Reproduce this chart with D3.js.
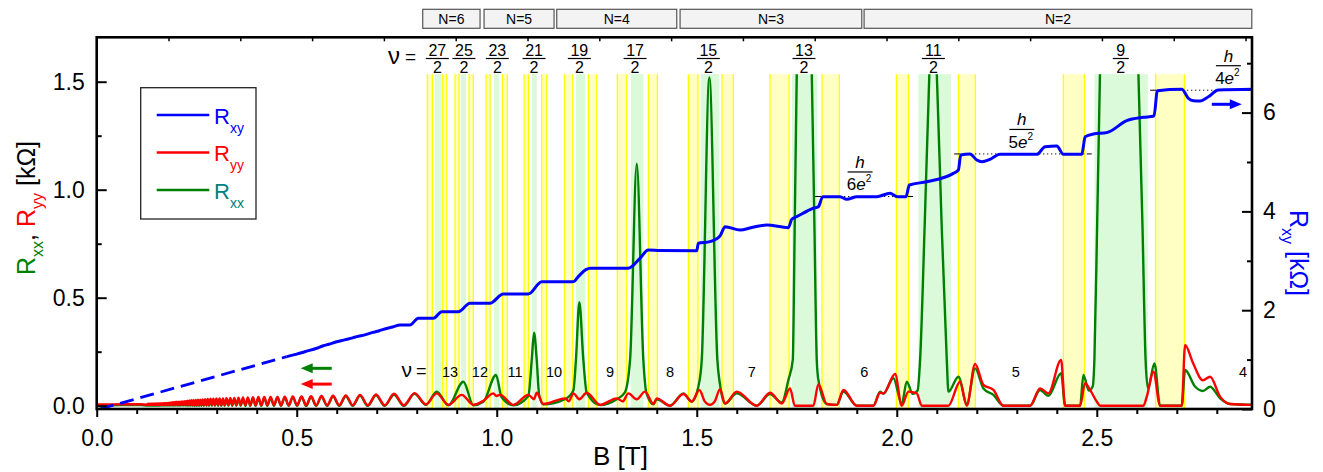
<!DOCTYPE html>
<html><head><meta charset="utf-8">
<script src="https://cdn.jsdelivr.net/npm/d3@7/dist/d3.min.js"></script>
<style>
body{margin:0;background:#fff;}
svg text{font-family:"Liberation Sans",Arial,Helvetica,sans-serif;}
</style></head>
<body>
<svg id="chart" width="1323" height="472"></svg>
<script>
// ---------------- DATA ----------------
const xMajorTicks=[0,0.5,1.0,1.5,2.0,2.5];
const xMinorTicks=[0.1,0.2,0.3,0.4,0.6,0.7,0.8,0.9,1.1,1.2,1.3,1.4,1.6,1.7,1.8,1.9,2.1,2.2,2.3,2.4,2.6,2.7,2.8];
const yLeftMajor=[0,0.5,1.0,1.5];
const yLeftMinor=[0.25,0.75,1.25];
const yRightMajor=[0,2,4,6];
const yRightMinor=[1,3,5,7];

// Rxy (kOhm, right axis)
const rxyDashB=[0.008,0.475];
const rxyDashVal=[0.0,1.06];
const rxyB=[0.475,0.50,0.52,0.55,0.5665,0.58,0.60,0.62,0.64,0.65,0.67,0.69,0.705,0.72,0.74,0.758,0.783,0.804,0.8415,0.8625,0.904,0.933,0.983,1.0165,1.079,1.1125,1.1915,1.205,1.223,1.233,1.329,1.358,1.379,1.408,1.5,1.504,1.533,1.558,1.571,1.608,1.64,1.675,1.729,1.7375,1.75,1.7915,1.804,1.815,1.858,1.875,1.9,1.95,1.983,2.0015,2.023,2.0315,2.075,2.1415,2.154,2.16,2.183,2.2,2.2125,2.233,2.258,2.35,2.371,2.4,2.4165,2.4625,2.471,2.4915,2.525,2.575,2.6165,2.643,2.6515,2.7125,2.729,2.7415,2.758,2.779,2.804,2.8875];
const rxyVal=[1.06,1.11,1.16,1.23,1.28,1.31,1.36,1.40,1.44,1.464,1.50,1.55,1.58,1.62,1.66,1.70,1.70,1.836,1.836,1.97,1.97,2.14,2.14,2.328,2.328,2.577,2.577,2.69,2.82,2.848,2.848,3.05,3.219,3.21,3.204,3.354,3.387,3.502,3.69,3.623,3.68,3.725,3.67,3.84,3.893,4.063,4.095,4.298,4.298,4.245,4.298,4.298,4.366,4.298,4.298,4.534,4.6,4.77,4.838,5.142,5.162,5.04,5.006,5.054,5.156,5.156,5.31,5.324,5.156,5.156,5.512,5.567,5.594,5.836,5.904,5.931,6.443,6.472,6.289,6.24,6.235,6.322,6.457,6.472];

// low-field baseline and Shubnikov-de Haas oscillations (Rxx, Ryy in kOhm)
const baseB=[0,0.04,0.08,0.11];
const baseRyy=[0.006,0.006,0.007,0.007];
const baseRxx=[0.002,0.002,0.003,0.003];
const oscTroughB=[0.1266,0.1280,0.1294,0.1309,0.1324,0.1340,0.1355,0.1371,0.1388,0.1405,0.1422,0.1440,0.1458,0.1477,0.1496,0.1516,0.1536,0.1557,0.1578,0.1600,
  0.1623,0.1646,0.1670,0.1694,0.1719,0.1745,0.1772,0.1800,0.1829,0.1858,0.1889,0.1920,0.1953,0.1986,0.2021,0.2057,0.2095,0.2133,0.2174,0.2215,0.2259,0.2304,0.2351,0.2400,0.2451,0.2504,0.2560,0.2618,0.2679,0.2743,0.2810,0.2880,0.2954,0.3032,0.3114,0.3200,0.3291,0.3388,0.3491,0.3600,0.3716,0.3840,0.3972,0.4114,0.4267,0.4431,0.4608,0.4800,0.5009,0.5236,0.5486,0.5760,0.6063,0.6400,0.6776,0.7200,0.7680];
const oscPeakB=[0.1273,0.1287,0.1302,0.1317,0.1332,0.1347,0.1363,0.1380,0.1396,0.1414,0.1431,0.1449,0.1468,0.1487,0.1506,0.1526,0.1546,0.1567,0.1589,0.1611,
  0.1634,0.1658,0.1682,0.1707,0.1732,0.1759,0.1786,0.1814,0.1843,0.1873,0.1904,0.1936,0.1969,0.2003,0.2039,0.2076,0.2114,0.2153,0.2194,0.2237,0.2281,0.2327,0.2375,0.2425,0.2477,0.2532,0.2589,0.2648,0.2711,0.2776,0.2844,0.2916,0.2992,0.3072,0.3156,0.3245,0.3339,0.3439,0.3545,0.3657,0.3777,0.3905,0.4042,0.4189,0.4347,0.4518,0.4702,0.4902,0.5120,0.5358,0.5620,0.5908,0.6227,0.6583,0.6982,0.7432,0.7945];
const oscPeakRyy=[0.008,0.008,0.008,0.008,0.008,0.008,0.009,0.009,0.009,0.009,0.009,0.009,0.009,0.009,0.010,0.010,0.010,0.010,0.010,0.010,
  0.010,0.011,0.011,0.012,0.012,0.013,0.013,0.014,0.014,0.015,0.016,0.016,0.017,0.018,0.018,0.019,0.020,0.020,0.021,0.022,0.023,0.024,0.025,0.026,0.027,0.028,0.028,0.029,0.030,0.031,0.032,0.032,0.033,0.034,0.034,0.035,0.036,0.036,0.037,0.038,0.038,0.039,0.040,0.040,0.041,0.041,0.042,0.043,0.043,0.044,0.045,0.046,0.048,0.050,0.052,0.055,0.058];
const oscPeakRxx=[0.005,0.005,0.005,0.005,0.005,0.005,0.006,0.006,0.006,0.006,0.006,0.006,0.006,0.006,0.007,0.007,0.007,0.007,0.007,0.007,
  0.007,0.007,0.008,0.008,0.009,0.009,0.010,0.010,0.011,0.011,0.012,0.013,0.013,0.014,0.015,0.015,0.016,0.017,0.017,0.018,0.019,0.020,0.021,0.022,0.023,0.024,0.024,0.025,0.026,0.027,0.028,0.028,0.029,0.030,0.030,0.031,0.032,0.032,0.033,0.034,0.034,0.035,0.036,0.036,0.037,0.038,0.038,0.039,0.040,0.040,0.041,0.042,0.044,0.046,0.048,0.051,0.055];
const oscTroughRyy=[0.004,0.004,0.004,0.004,0.004,0.004,0.004,0.004,0.004,0.004,0.004,0.004,0.004,0.004,0.004,0.004,0.004,0.004,0.004,0.004,
  0.004,0.004,0.004,0.004,0.004,0.004,0.004,0.004,0.004,0.004,0.004,0.004,0.004,0.004,0.004,0.004,0.004,0.004,0.004,0.004,0.003,0.003,0.003,0.003,0.003,0.003,0.003,0.003,0.003,0.003,0.003,0.003,0.003,0.003,0.003,0.003,0.003,0.003,0.003,0.003,0.002,0.002,0.002,0.002,0.002,0.002,0.002,0.002,0.002,0.002,0.002,0.002,0.002,0.002,0.002,0.002,0.002];
const oscTroughRxx=[0.001,0.001,0.001,0.001,0.001,0.001,0.001,0.001,0.001,0.001,0.001,0.001,0.001,0.001,0.001,0.001,0.001,0.001,0.001,0.001,
  0.001,0.001,0.001,0.001,0.001,0.001,0.001,0.001,0.001,0.001,0.001,0.001,0.001,0.001,0.001,0.001,0.001,0.001,0.001,0.001,0.0,0.0,0.0,0.0,0.0,0.0,0.0,0.0,0.0,0.0,0.0,0.0,0.0,0.0,0.0,0.0,0.0,0.0,0.0,0.0,-0.001,-0.001,-0.001,-0.001,-0.001,-0.001,-0.001,-0.001,-0.001,-0.001,-0.001,-0.001,-0.001,-0.001,-0.001,-0.001,-0.001];

// high-field Rxx
const rxxHiB=[0.8229,0.8499,0.8791,0.9166,0.9416,0.9666,0.9982,1.012,1.0416,1.0791,1.0875,1.0933,1.1,1.106,1.1166,1.1707,1.1916,1.198,1.2065,1.2165,1.2249,1.2582,1.3,1.32,1.3333,1.35,1.3665,1.374,1.3916,1.4,1.4333,1.4666,1.4874,1.5041,1.5125,1.5315,1.5515,1.5583,1.5708,1.6,1.65,1.6833,1.7124,1.7291,1.74,1.745,1.75,1.758,1.769,1.78,1.7875,1.794,1.8,1.8041,1.825,1.85,1.8666,1.9,1.9416,1.9583,1.9666,1.9916,2.0124,2.025,2.04,2.052,2.0583,2.07,2.0815,2.0905,2.1,2.112,2.125,2.1291,2.1541,2.175,2.1958,2.2166,2.2416,2.2666,2.3333,2.3583,2.3791,2.4108,2.4208,2.4583,2.4666,2.48,2.49,2.494,2.501,2.508,2.52,2.556,2.59,2.604,2.614,2.622,2.628,2.6441,2.6583,2.7124,2.7208,2.745,2.765,2.7833,2.8083,2.8333,2.888];
const rxxHiVal=[0.004,0.065,0.002,0.111,0.002,0.018,0.142,0.04,0.002,0.045,0.212,0.338,0.212,0.05,0.006,0.03,0.07,0.212,0.479,0.212,0.06,0.003,0.03,0.06,0.212,1.12,0.212,0.06,0.006,0.03,0.0,0.057,0.019,0.089,0.212,1.52,0.212,0.096,0.01,0.057,0.0,0.054,0.015,0.119,0.212,0.85,1.54,2.1,2.4,2.1,1.54,0.85,0.212,0.119,0.008,0.004,0.065,0.0,0.0,0.065,0.055,0.127,0.008,0.111,0.055,0.07,0.212,0.85,1.54,1.95,1.54,0.85,0.212,0.065,0.134,0.008,0.173,0.08,0.05,0.0,0.0,0.073,0.046,0.15,0.0,0.0,0.142,0.07,0.09,0.212,0.85,1.54,2.4,2.9,2.4,1.54,0.85,0.212,0.08,0.196,0.0,0.0,0.165,0.09,0.068,0.088,0.034,0.008,0.004];

// high-field Ryy
const ryyHiB=[0.8229,0.8499,0.8791,0.9124,0.9416,0.9666,0.9916,0.999,1.0083,1.0416,1.0791,1.0933,1.0999,1.1166,1.1707,1.18,1.1916,1.2065,1.2249,1.2582,1.3,1.315,1.329,1.35,1.3707,1.3916,1.4,1.4333,1.4666,1.4874,1.5066,1.52,1.5332,1.545,1.5583,1.5708,1.6,1.65,1.6833,1.7124,1.7333,1.745,1.7916,1.8041,1.825,1.85,1.8666,1.9,1.9416,1.9583,1.9666,1.9958,2.0124,2.0291,2.05,2.0624,2.1291,2.1583,2.175,2.1958,2.2166,2.2416,2.2666,2.3333,2.3583,2.3791,2.4108,2.4208,2.4583,2.4708,2.4833,2.5,2.5083,2.6166,2.625,2.6416,2.6583,2.7124,2.7208,2.74,2.765,2.7833,2.8083,2.8333,2.888];
const ryyHiVal=[0.006,0.057,0.004,0.05,0.004,0.023,0.057,0.045,0.05,0.004,0.05,0.03,0.06,0.008,0.034,0.02,0.057,0.03,0.06,0.004,0.034,0.02,0.057,0.03,0.065,0.008,0.034,0.0,0.054,0.019,0.073,0.02,0.004,0.02,0.076,0.01,0.065,0.0,0.06,0.01,0.08,0.0,0.0,0.1,0.008,0.004,0.073,0.0,0.0,0.06,0.057,0.147,0.0,0.065,0.057,0.0,0.0,0.111,0.0,0.193,0.096,0.073,0.0,0.0,0.08,0.057,0.212,0.0,0.0,0.104,0.073,0.019,0.0,0.0,0.042,0.157,0.0,0.0,0.281,0.2,0.118,0.134,0.042,0.008,0.004];

// shaded field ranges (T)
const yellowBands=[[0.8265,0.839],[0.865,0.875],[0.8958,0.9058],[0.9308,0.9415],[0.9733,0.9833],[1.014,1.0265],[1.0683,1.079],[1.1125,1.125],[1.169,1.19],[1.229,1.25],[1.3015,1.325],[1.379,1.4015],[1.479,1.503],[1.563,1.5915],[1.683,1.7308],[1.813,1.8565],[1.999,2.029],[2.154,2.1965],[2.4165,2.469],[2.647,2.719]];
const greenBands=[[0.8458,0.8625],[0.9108,0.9233],[0.9933,1.0058],[1.0875,1.1],[1.198,1.221],[1.335,1.3665],[1.51,1.5565],[1.738,1.8015],[2.054,2.1358],[2.494,2.6275]];

// Landau level groups
const levelNames=["N=6","N=5","N=4","N=3","N=2"];
const levelRanges=[[0.815,0.9583],[0.9683,1.1433],[1.15,1.45],[1.4583,1.9125],[1.9183,2.8875]];

// half-integer filling labels
const fracNum=["27","25","23","21","19","17","15","13","11","9"];
const fracB=[0.8515,0.918,1.0015,1.0933,1.2065,1.3458,1.529,1.768,2.0915,2.56];

// integer filling labels
const nuInt=["13","12","11","10","9","8","7","6","5","4"];
const nuIntB=[0.8833,0.958,1.0458,1.1433,1.2833,1.4333,1.6375,1.919,2.2975,2.8658];

// quantized plateaus h/(n e^2)
const plateauN=[6,5,4];
const plateauR=[4.302,5.163,6.453];
const plateauLabelB=[1.9083,2.3125,2.829];
const plateauLineB=[[1.7958,2.0408],[2.1433,2.4875],[2.6333,2.8833]];

// ---------------- CHART ----------------
const M={l:96.7,r:1252,t:37.3,b:409};
const x=d3.scaleLinear().domain([0,2.888]).range([M.l,M.r]);
const yL=d3.scaleLinear().domain([-0.0153,1.7056]).range([M.b,M.t]);
const yR=d3.scaleLinear().domain([0,7.524]).range([M.b,M.t]);
const xTop=d3.scaleLinear().domain([0,16.09]).range([M.l,M.r]);
const svg=d3.select('#chart');
const bandTop=yL(1.535);

const BLUE='#0000ff',RED='#ff0000',GREEN='#008000',TEAL='#008080';

svg.append('defs').append('clipPath').attr('id','clip')
  .append('rect').attr('x',M.l).attr('y',bandTop).attr('width',M.r-M.l).attr('height',M.b-bandTop);

// bands
const gBands=svg.append('g');
gBands.selectAll('rect.g').data(greenBands).join('rect').attr('class','g')
  .attr('x',d=>x(d[0])).attr('width',d=>x(d[1])-x(d[0]))
  .attr('y',bandTop).attr('height',M.b-bandTop).attr('fill','#dafada');
gBands.selectAll('rect.y').data(yellowBands).join('rect').attr('class','y')
  .attr('x',d=>x(d[0])).attr('width',d=>x(d[1])-x(d[0]))
  .attr('y',bandTop).attr('height',M.b-bandTop).attr('fill','#ffffc4');
yellowBands.forEach(d=>{
  d.forEach(b=>{
    gBands.append('line').attr('x1',x(b)).attr('x2',x(b)).attr('y1',bandTop).attr('y2',M.b)
      .attr('stroke','#ffff00').attr('stroke-width',1.3);
  });
});

// plateau reference lines
plateauR.forEach((r,i)=>{
  const yy=yR(r), x1=x(plateauLineB[i][0]), x2=x(plateauLineB[i][1]);
  svg.append('line').attr('x1',x1+5).attr('x2',x2-5).attr('y1',yy).attr('y2',yy)
    .attr('stroke','#000').attr('stroke-width',1).attr('stroke-dasharray','1.2,2.8');
  svg.append('line').attr('x1',x1).attr('x2',x1+5).attr('y1',yy).attr('y2',yy).attr('stroke','#000').attr('stroke-width',1);
  svg.append('line').attr('x1',x2-5).attr('x2',x2).attr('y1',yy).attr('y2',yy).attr('stroke','#000').attr('stroke-width',1);
});

// build series
function interleave(tb,tv,pb,pv){const o=[];tb.forEach((b,i)=>{o.push([b,tv[i]]);o.push([pb[i],pv[i]]);});return o;}
const rxxPts=baseB.map((b,i)=>[b,baseRxx[i]])
  .concat(interleave(oscTroughB,oscTroughRxx,oscPeakB,oscPeakRxx))
  .concat(rxxHiB.map((b,i)=>[b,rxxHiVal[i]]));
const ryyPts=baseB.map((b,i)=>[b,baseRyy[i]])
  .concat(interleave(oscTroughB,oscTroughRyy,oscPeakB,oscPeakRyy))
  .concat(ryyHiB.map((b,i)=>[b,ryyHiVal[i]]));
const rxyPts=rxyB.map((b,i)=>[b,rxyVal[i]]);
const rxyDash=rxyDashB.map((b,i)=>[b,rxyDashVal[i]]);

const lineL=d3.line().x(d=>x(d[0])).y(d=>yL(d[1])).curve(d3.curveMonotoneX);
const lineR=d3.line().x(d=>x(d[0])).y(d=>yR(d[1])).curve(d3.curveMonotoneX);

const gCurves=svg.append('g').attr('clip-path','url(#clip)');
gCurves.append('path').datum(rxxPts).attr('d',lineL).attr('fill','none').attr('stroke',GREEN).attr('stroke-width',2.4).attr('stroke-linejoin','round');
gCurves.append('path').datum(ryyPts).attr('d',lineL).attr('fill','none').attr('stroke',RED).attr('stroke-width',2.4).attr('stroke-linejoin','round');
gCurves.append('path').datum(rxyDash).attr('d',d3.line().x(d=>x(d[0])).y(d=>yR(d[1]))).attr('fill','none').attr('stroke',BLUE).attr('stroke-width',2.8).attr('stroke-dasharray','14,7');
gCurves.append('path').datum(rxyPts).attr('d',lineR).attr('fill','none').attr('stroke',BLUE).attr('stroke-width',3).attr('stroke-linejoin','round');

// axes
function styleAxis(g,fs){
  g.select('.domain').remove();
  g.selectAll('.tick line').attr('stroke','#000').attr('stroke-width',2);
  g.selectAll('.tick text').attr('fill','#000').attr('font-size',fs).attr('font-family','"Liberation Sans",Arial,sans-serif');
}
styleAxis(svg.append('g').attr('transform',`translate(0,${M.b})`)
  .call(d3.axisBottom(x).tickValues(xMajorTicks).tickFormat(d3.format('.1f')).tickSizeInner(8).tickSizeOuter(0).tickPadding(13)),23);
styleAxis(svg.append('g').attr('transform',`translate(0,${M.b})`)
  .call(d3.axisBottom(x).tickValues(xMinorTicks).tickFormat('').tickSizeInner(5).tickSizeOuter(0)),0);
styleAxis(svg.append('g').attr('transform',`translate(${M.l},0)`)
  .call(d3.axisLeft(yL).tickValues(yLeftMajor).tickFormat(d3.format('.1f')).tickSizeInner(-10).tickSizeOuter(0).tickPadding(12)),23);
styleAxis(svg.append('g').attr('transform',`translate(${M.l},0)`)
  .call(d3.axisLeft(yL).tickValues(yLeftMinor).tickFormat('').tickSizeInner(-5).tickSizeOuter(0)),0);
styleAxis(svg.append('g').attr('transform',`translate(${M.r},0)`)
  .call(d3.axisRight(yR).tickValues(yRightMajor).tickFormat(d3.format('d')).tickSizeInner(-10).tickSizeOuter(0).tickPadding(11)),23);
styleAxis(svg.append('g').attr('transform',`translate(${M.r},0)`)
  .call(d3.axisRight(yR).tickValues(yRightMinor).tickFormat('').tickSizeInner(-5).tickSizeOuter(0)),0);
const gTop=svg.append('g').attr('transform',`translate(0,${M.t})`)
  .call(d3.axisTop(xTop).tickValues(d3.range(1,17)).tickFormat('').tickSizeInner(-4).tickSizeOuter(0));
gTop.select('.domain').remove();
gTop.selectAll('.tick line').attr('stroke','#000').attr('stroke-width',1.5);

// frame
svg.append('rect').attr('x',M.l).attr('y',M.t).attr('width',M.r-M.l).attr('height',M.b-M.t)
  .attr('fill','none').attr('stroke','#000').attr('stroke-width',2.6);

// axis titles
svg.append('text').attr('x',593).attr('y',465).attr('font-size',26).attr('fill','#000').text('B [T]');
const lt=svg.append('text').attr('transform','translate(35,208) rotate(-90)').attr('text-anchor','middle').attr('font-size',25);
lt.append('tspan').attr('fill',GREEN).text('R');
lt.append('tspan').attr('fill',GREEN).attr('font-size',16).attr('dy',8).text('xx');
lt.append('tspan').attr('fill','#000').attr('dy',-8).text(', ');
lt.append('tspan').attr('fill',RED).text('R');
lt.append('tspan').attr('fill',RED).attr('font-size',16).attr('dy',8).text('yy');
lt.append('tspan').attr('fill','#000').attr('dy',-8).text(' [kΩ]');
const rt=svg.append('text').attr('transform','translate(1290,253) rotate(90)').attr('text-anchor','middle').attr('font-size',25).attr('fill',BLUE);
rt.append('tspan').text('R');
rt.append('tspan').attr('font-size',16).attr('dy',8).text('xy');
rt.append('tspan').attr('dy',-8).text(' [kΩ]');

// legend
const leg=svg.append('g');
leg.append('rect').attr('x',140.7).attr('y',87.7).attr('width',115.3).attr('height',131.3).attr('fill','#fff').attr('stroke','#222').attr('stroke-width',1.3);
const legItems=[{s:'xy',c:BLUE,t:BLUE},{s:'yy',c:RED,t:RED},{s:'xx',c:GREEN,t:TEAL}];
legItems.forEach((d,i)=>{
  const yy=115+i*37.5;
  leg.append('line').attr('x1',156.7).attr('x2',209.3).attr('y1',yy).attr('y2',yy).attr('stroke',d.c).attr('stroke-width',2.5);
  const t=leg.append('text').attr('x',214).attr('y',yy+8.5).attr('font-size',22).attr('fill',d.t);
  t.append('tspan').text('R');
  t.append('tspan').attr('font-size',14).attr('dy',9).text(d.s);
});

// level group boxes
levelNames.forEach((n,i)=>{
  const x1=x(levelRanges[i][0]),x2=x(levelRanges[i][1]);
  svg.append('rect').attr('x',x1).attr('y',9.3).attr('width',x2-x1).attr('height',19)
    .attr('fill','#f3f3f3').attr('stroke','#555').attr('stroke-width',1.2);
  svg.append('text').attr('x',(x1+x2)/2).attr('y',24).attr('text-anchor','middle').attr('font-size',14).attr('fill','#000').text(n);
});

// top nu = fractions
svg.append('text').attr('x',388).attr('y',64).attr('font-family','"Liberation Serif",serif').attr('font-size',24).attr('fill','#000').text('ν');
svg.append('text').attr('x',405).attr('y',63).attr('font-size',19).attr('fill','#000').text('=');
fracNum.forEach((n,i)=>{
  const cx=x(fracB[i]); const hw=n.length>1?11.5:8;
  svg.append('text').attr('x',cx).attr('y',55.5).attr('text-anchor','middle').attr('font-size',16).attr('fill','#000').text(n);
  svg.append('line').attr('x1',cx-hw).attr('x2',cx+hw).attr('y1',58.5).attr('y2',58.5).attr('stroke','#000').attr('stroke-width',1.2);
  svg.append('text').attr('x',cx).attr('y',72.5).attr('text-anchor','middle').attr('font-size',16).attr('fill','#000').text('2');
});

// bottom integer nu labels
svg.append('text').attr('x',401.5).attr('y',377.3).attr('font-family','"Liberation Serif",serif').attr('font-size',21).attr('fill','#000').text('ν');
svg.append('text').attr('x',416).attr('y',377).attr('font-size',18).attr('fill','#000').text('=');
nuInt.forEach((n,i)=>{
  svg.append('text').attr('x',x(nuIntB[i])).attr('y',377).attr('text-anchor','middle').attr('font-size',14.5).attr('fill','#000').text(n);
});

// h/(n e^2) labels
plateauN.forEach((n,i)=>{
  const cx=x(plateauLabelB[i]); const ly=yR(plateauR[i])-24.5;
  svg.append('text').attr('x',cx).attr('y',ly-4).attr('text-anchor','middle').attr('font-size',17).attr('font-style','italic').attr('fill','#000').text('h');
  svg.append('line').attr('x1',cx-12.5).attr('x2',cx+12.5).attr('y1',ly).attr('y2',ly).attr('stroke','#000').attr('stroke-width',1.2);
  const t=svg.append('text').attr('x',cx-1).attr('y',ly+18.5).attr('text-anchor','middle').attr('font-size',17).attr('fill','#000');
  t.append('tspan').text(n);
  t.append('tspan').attr('font-style','italic').text('e');
  t.append('tspan').attr('font-size',10).attr('dy',-8).text('2');
});

// arrows
function arrow(x1,x2,y,c){
  const dir=Math.sign(x2-x1);
  svg.append('line').attr('x1',x1).attr('x2',x2-dir*8).attr('y1',y).attr('y2',y).attr('stroke',c).attr('stroke-width',3);
  svg.append('path').attr('d',`M${x2},${y} L${x2-dir*12},${y-5} L${x2-dir*12},${y+5} Z`).attr('fill',c);
}
arrow(x(0.5875),x(0.51),yL(0.173),GREEN);
arrow(x(0.5875),x(0.51),yL(0.1),RED);
arrow(x(2.7875),x(2.8625),yR(6.168),BLUE);
</script>
</body></html>
